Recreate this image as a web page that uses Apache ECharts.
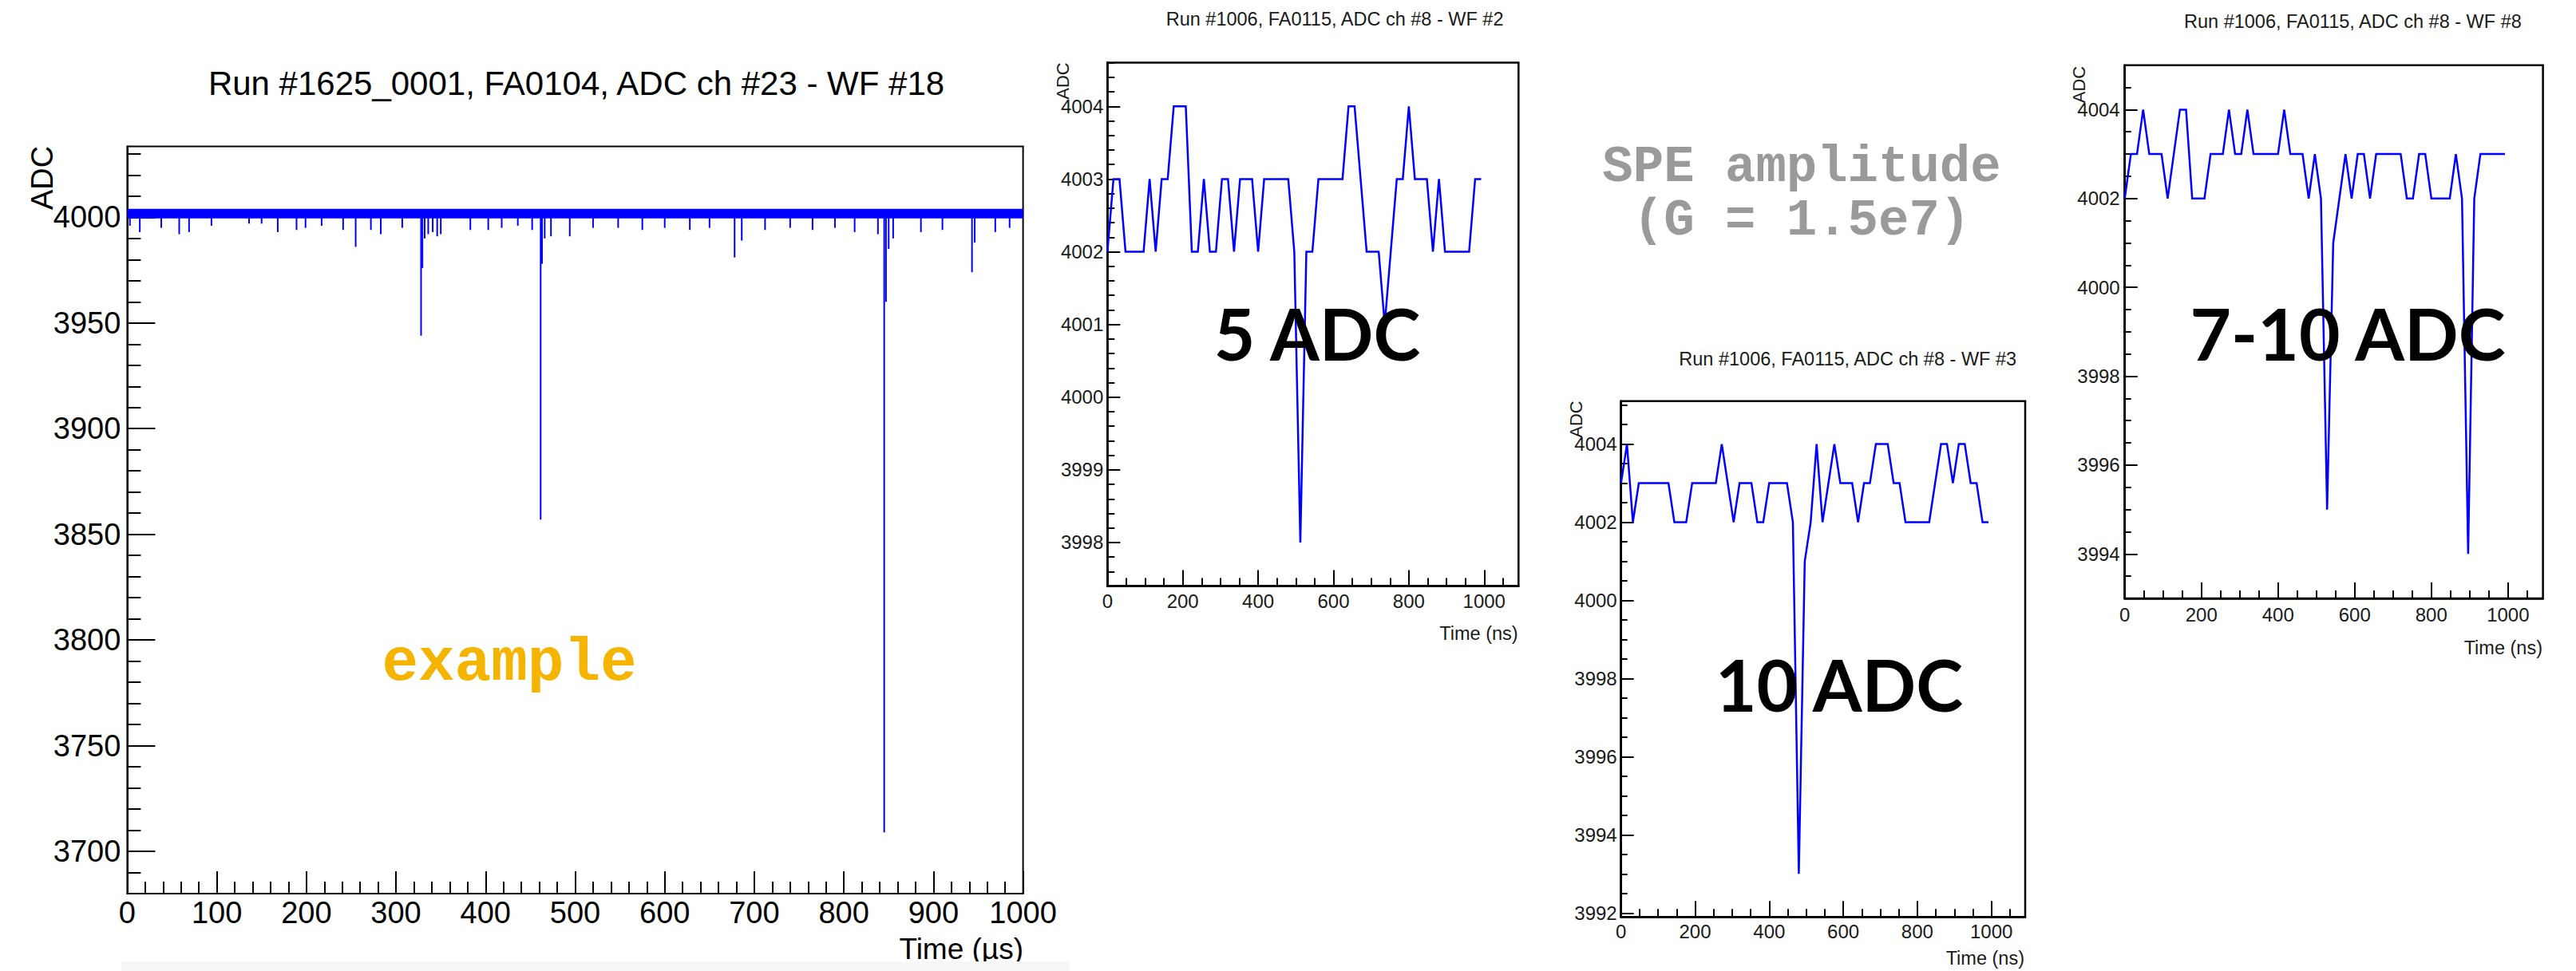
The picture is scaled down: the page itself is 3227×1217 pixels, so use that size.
<!DOCTYPE html>
<html>
<head>
<meta charset="utf-8">
<script src="https://cdn.jsdelivr.net/npm/echarts@6/dist/echarts.min.js"></script>
<style>
html,body{margin:0;padding:0;background:#fff;}
#c{width:3227px;height:1217px;}
</style>
</head>
<body>
<div id="c"></div>
<script>
// ---------------- DATA ----------------
// Main waveform (Run #1625_0001, WF #18), time in µs
const mainTitle = "Run #1625_0001, FA0104, ADC ch #23 - WF #18";
const mainXTicks = [0, 100, 200, 300, 400, 500, 600, 700, 800, 900, 1000];
const mainYTicks = [3700, 3750, 3800, 3850, 3900, 3950, 4000];
// baseline noise band (lower / upper edge of the dense trace)
const mainBandTime = [0, 250, 500, 750, 1000];
const mainBandLow  = [3999.5, 3999.5, 3999.5, 3999.5, 3999.5];
const mainBandHigh = [4004, 4004, 4004, 4004, 4004];
// negative excursions: [time µs, minimum ADC]
const mainSpikes = [
  [3, 3996], [14, 3993], [38, 3995], [58, 3992], [69, 3993], [94, 3996], [136, 3997], [150, 3997],
  [168, 3993], [189, 3994], [199, 3995], [217, 3996], [241, 3994], [255, 3986], [272, 3994], [283, 3992],
  [307, 3995], [328, 3944], [329.5, 3976], [332, 3990], [336, 3992], [341, 3993], [346, 3991], [350, 3992],
  [383, 3994], [403, 3994], [418, 3995], [436, 3996], [452, 3994], [461.5, 3857], [463, 3978], [466, 3990],
  [473, 3991], [494, 3991], [520, 3995], [548, 3995], [575, 3994], [600, 3995], [628, 3994], [650, 3995],
  [678, 3981], [686, 3989], [712, 3994], [740, 3995], [765, 3994], [790, 3995], [812, 3993], [838, 3992],
  [845, 3709], [847, 3960], [850, 3985], [855, 3990], [886, 3993], [910, 3994], [943, 3974], [946, 3988],
  [969, 3993], [985, 3995]
];

// SPE waveforms (Run #1006), 16 ns sampling, time in ns
const speTime = [0, 16, 32, 48, 64, 80, 96, 112, 128, 144, 160, 176, 192, 208, 224, 240, 256, 272, 288, 304,
  320, 336, 352, 368, 384, 400, 416, 432, 448, 464, 480, 496, 512, 528, 544, 560, 576, 592, 608, 624,
  640, 656, 672, 688, 704, 720, 736, 752, 768, 784, 800, 816, 832, 848, 864, 880, 896, 912, 928, 944,
  960, 976, 992];
const wf2Title = "Run #1006, FA0115, ADC ch #8 - WF #2";
const wf2Values = [4002, 4003, 4003, 4002, 4002, 4002, 4002, 4003, 4002, 4003,
  4003, 4004, 4004, 4004, 4002, 4002, 4003, 4002, 4002, 4003,
  4003, 4002, 4003, 4003, 4003, 4002, 4003, 4003, 4003, 4003,
  4003, 4002, 3998, 4002, 4002, 4003, 4003, 4003, 4003, 4003,
  4004, 4004, 4003, 4002, 4002, 4002, 4001, 4002, 4003, 4003,
  4004, 4003, 4003, 4003, 4002, 4003, 4002, 4002, 4002, 4002,
  4002, 4003, 4003];
const wf3Title = "Run #1006, FA0115, ADC ch #8 - WF #3";
const wf3Values = [4003, 4004, 4002, 4003, 4003, 4003, 4003, 4003, 4003, 4002,
  4002, 4002, 4003, 4003, 4003, 4003, 4003, 4004, 4003, 4002,
  4003, 4003, 4003, 4002, 4002, 4003, 4003, 4003, 4003, 4002,
  3993, 4001, 4002, 4004, 4002, 4003, 4004, 4003, 4003, 4003,
  4002, 4003, 4003, 4004, 4004, 4004, 4003, 4003, 4002, 4002,
  4002, 4002, 4002, 4003, 4004, 4004, 4003, 4004, 4004, 4003,
  4003, 4002, 4002];
const wf8Title = "Run #1006, FA0115, ADC ch #8 - WF #8";
const wf8Values = [4002, 4003, 4003, 4004, 4003, 4003, 4003, 4002, 4003, 4004,
  4004, 4002, 4002, 4002, 4003, 4003, 4003, 4004, 4003, 4003,
  4004, 4003, 4003, 4003, 4003, 4003, 4004, 4003, 4003, 4003,
  4002, 4003, 4002, 3995, 4001, 4002, 4003, 4002, 4003, 4003,
  4002, 4003, 4003, 4003, 4003, 4003, 4002, 4002, 4003, 4003,
  4002, 4002, 4002, 4002, 4003, 4002, 3994, 4002, 4003, 4003,
  4003, 4003, 4003];
const speXTicks = [0, 200, 400, 600, 800, 1000];
const wf2YTicks = [3998, 3999, 4000, 4001, 4002, 4003, 4004];
const wf3YTicks = [3992, 3994, 3996, 3998, 4000, 4002, 4004];
const wf8YTicks = [3994, 3996, 3998, 4000, 4002, 4004];

const labelTexts = {
  yName: "ADC", mainXName: "Time (\u00b5s)", speXName: "Time (ns)",
  example: "example", spe1: "SPE amplitude", spe2: "(G = 1.5e7)",
  a2: "5 ADC", a3: "10 ADC", a8: "7-10 ADC"
};

// ---------------- LAYOUT ----------------
const SANS = "'Liberation Sans', Arial, Helvetica, sans-serif";
const panels = [
  {left:159.4, top:183.6, right:1281.6, bottom:1120, xMin:0, xMax:1000, yMin:3680, yMax:4033.5,
   xTicks:mainXTicks, yTicks:mainYTicks, xMinor:20, yMinor:10,
   xMajLen:28, xMinLen:15, yMajLen:35, yMinLen:17, fs:38, xMargin:5, yMargin:8, frameW:2, color:'#000'},
  {left:1387.3, top:78.6, right:1902.3, bottom:734.6, xMin:0, xMax:1091.2, yMin:3997.4, yMax:4004.6,
   xTicks:speXTicks, yTicks:wf2YTicks, xMinor:50, yMinor:0.2,
   xMajLen:20, xMinLen:10, yMajLen:16, yMinLen:9, fs:24, xMargin:7, yMargin:5, frameW:2.5, color:'#1a1a1a'},
  {left:2030.7, top:502.7, right:2537, bottom:1149.2, xMin:0, xMax:1091.2, yMin:3991.9, yMax:4005.1,
   xTicks:speXTicks, yTicks:wf3YTicks, xMinor:50, yMinor:0.5,
   xMajLen:20, xMinLen:10, yMajLen:16, yMinLen:8, fs:24, xMargin:6, yMargin:5, frameW:2.5, color:'#1a1a1a'},
  {left:2661.7, top:81.7, right:3185.6, bottom:750, xMin:0, xMax:1091.2, yMin:3993, yMax:4005,
   xTicks:speXTicks, yTicks:wf8YTicks, xMinor:50, yMinor:0.5,
   xMajLen:20, xMinLen:10, yMajLen:16, yMinLen:8, fs:24, xMargin:8, yMargin:6, frameW:2.5, color:'#1a1a1a'}
];

function minorVals(min, max, step) {
  const out = [];
  const n0 = Math.ceil(min / step - 1e-9), n1 = Math.floor(max / step + 1e-9);
  for (let n = n0; n <= n1; n++) out.push(+(n * step).toFixed(4));
  return out;
}
const fmt = v => String(Math.round(v));

const grid = [], xAxis = [], yAxis = [];
const majorX = [], majorY = [];
panels.forEach((p, g) => {
  grid.push({left:p.left, top:p.top, width:p.right - p.left, height:p.bottom - p.top,
    show:true, borderColor:'#000', borderWidth:p.frameW, backgroundColor:'transparent',
    containLabel:false, outerBoundsMode:'none'});
  majorX.push(xAxis.length);
  xAxis.push({gridIndex:g, type:'value', min:p.xMin, max:p.xMax, position:'bottom',
    axisLine:{show:true, onZero:false, lineStyle:{color:'#000', width:p.frameW}},
    axisTick:{show:true, inside:true, length:p.xMajLen, customValues:p.xTicks, lineStyle:{color:'#000', width:2}},
    axisLabel:{show:true, customValues:p.xTicks, formatter:fmt, margin:p.xMargin, fontSize:p.fs, fontFamily:SANS, color:p.color},
    splitLine:{show:false}, minorTick:{show:false}});
  xAxis.push({gridIndex:g, type:'value', min:p.xMin, max:p.xMax, position:'bottom',
    axisLine:{show:false, onZero:false},
    axisTick:{show:true, inside:true, length:p.xMinLen, customValues:minorVals(p.xMin, p.xMax, p.xMinor), lineStyle:{color:'#000', width:2}},
    axisLabel:{show:false}, splitLine:{show:false}});
  majorY.push(yAxis.length);
  yAxis.push({gridIndex:g, type:'value', min:p.yMin, max:p.yMax, position:'left',
    axisLine:{show:true, onZero:false, lineStyle:{color:'#000', width:p.frameW}},
    axisTick:{show:true, inside:true, length:p.yMajLen, customValues:p.yTicks, lineStyle:{color:'#000', width:2}},
    axisLabel:{show:true, customValues:p.yTicks, formatter:fmt, margin:p.yMargin, fontSize:p.fs, fontFamily:SANS, color:p.color},
    splitLine:{show:false}, minorTick:{show:false}});
  yAxis.push({gridIndex:g, type:'value', min:p.yMin, max:p.yMax, position:'left',
    axisLine:{show:false, onZero:false},
    axisTick:{show:true, inside:true, length:p.yMinLen, customValues:minorVals(p.yMin, p.yMax, p.yMinor), lineStyle:{color:'#000', width:2}},
    axisLabel:{show:false}, splitLine:{show:false}});
});

const BLUE = '#0000ff';
const series = [];
// main band
series.push({type:'custom', xAxisIndex:majorX[0], yAxisIndex:majorY[0], data:[0], clip:true, silent:true,
  renderItem:(params, api) => {
    const pts = [];
    for (let i = 0; i < mainBandTime.length; i++) pts.push(api.coord([mainBandTime[i], mainBandHigh[i]]));
    for (let i = mainBandTime.length - 1; i >= 0; i--) pts.push(api.coord([mainBandTime[i], mainBandLow[i]]));
    return {type:'polygon', shape:{points:pts}, style:{fill:BLUE}};
  }});
// main spikes
series.push({type:'custom', xAxisIndex:majorX[0], yAxisIndex:majorY[0], data:mainSpikes, clip:true, silent:true,
  renderItem:(params, api) => {
    const t = api.value(0), v = api.value(1);
    const a = api.coord([t, mainBandLow[0] + 0.5]);
    const b = api.coord([t, v]);
    return {type:'line', shape:{x1:a[0], y1:a[1], x2:b[0], y2:b[1]}, style:{stroke:BLUE, lineWidth:2}};
  }});
[wf2Values, wf3Values, wf8Values].forEach((vals, i) => {
  series.push({type:'line', xAxisIndex:majorX[i + 1], yAxisIndex:majorY[i + 1],
    data: speTime.map((t, k) => [t, vals[k]]), symbol:'none', silent:true,
    lineStyle:{color:BLUE, width:2.5, join:'miter', miterLimit:4}});
});

function txt(x, y, s, size, opts) {
  opts = opts || {};
  return {type:'text', x:x, y:y, rotation:opts.rot || 0, z:50,
    style:{text:s, fontSize:size, fontFamily:opts.family || SANS, fontWeight:opts.weight || 'normal',
      fill:opts.color || '#000', align:opts.align || 'center', verticalAlign:'middle',
      textAlign:opts.align || 'center', textVerticalAlign:'middle'}};
}
const R = Math.PI / 2;
const MONO = "'Liberation Mono', 'Courier New', monospace";
const GEO = "Lato, 'Noto Sans', sans-serif";
const graphic = [
  {type:'rect', shape:{x:152, y:1205, width:1188, height:12}, style:{fill:'#f7f7f7'}, z:60},
  txt(722, 104.5, mainTitle, 42),
  txt(53, 223, labelTexts.yName, 38, {rot:R}),
  txt(1282, 1189, labelTexts.mainXName, 37, {align:'right'}),
  txt(1460.7, 24, wf2Title, 23.5, {align:'left', color:'#1a1a1a'}),
  txt(1331, 101.5, labelTexts.yName, 22, {rot:R, color:'#1a1a1a'}),
  txt(1901.7, 794, labelTexts.speXName, 23.5, {align:'right', color:'#1a1a1a'}),
  txt(2103.3, 449.7, wf3Title, 23.5, {align:'left', color:'#1a1a1a'}),
  txt(1974, 525.5, labelTexts.yName, 22, {rot:R, color:'#1a1a1a'}),
  txt(2536, 1201, labelTexts.speXName, 23.5, {align:'right', color:'#1a1a1a'}),
  txt(2736, 26.5, wf8Title, 23.5, {align:'left', color:'#1a1a1a'}),
  txt(2604, 106, labelTexts.yName, 22, {rot:R, color:'#1a1a1a'}),
  txt(3185, 812, labelTexts.speXName, 23.5, {align:'right', color:'#1a1a1a'}),
  txt(1650, 417, labelTexts.a2, 89, {family:GEO, weight:'bold'}),
  txt(2304, 857, labelTexts.a3, 89, {family:GEO, weight:'bold'}),
  txt(2941, 417, labelTexts.a8, 89, {family:GEO, weight:'bold'}),
  txt(638, 832, labelTexts.example, 76, {family:MONO, weight:'bold', color:'#f5b400'}),
  txt(2257, 210, labelTexts.spe1, 64, {family:MONO, weight:'bold', color:'#9a9a9a'}),
  txt(2257, 277, labelTexts.spe2, 64, {family:MONO, weight:'bold', color:'#9a9a9a'})
];

const chart = echarts.init(document.getElementById('c'), null, {renderer:'svg', width:3227, height:1217});
chart.setOption({
  animation:false,
  backgroundColor:'#ffffff',
  grid, xAxis, yAxis, series, graphic
});
</script>
</body>
</html>
